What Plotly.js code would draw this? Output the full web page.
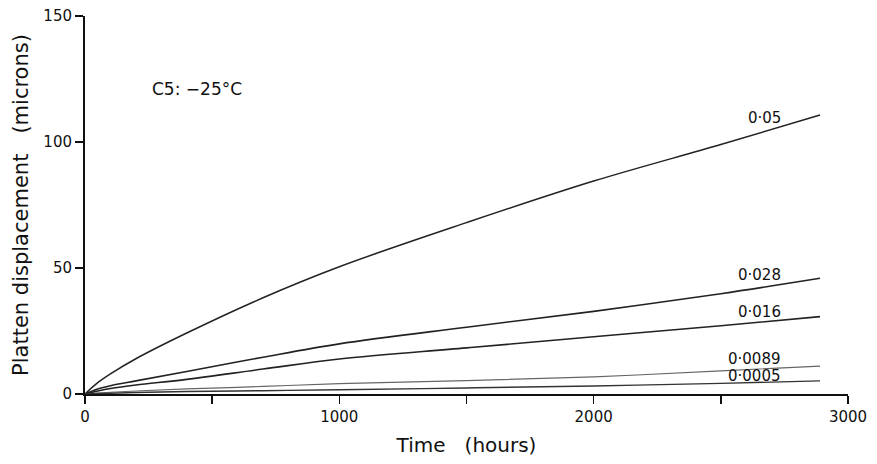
<!DOCTYPE html>
<html>
<head>
<meta charset="utf-8">
<script src="https://cdn.plot.ly/plotly-3.0.1.min.js"></script>
<style>html,body{margin:0;padding:0;background:#fff;}#chart{width:877px;height:464px;}</style>
</head>
<body>
<div id="chart"></div>
<script>
// Time (hours)
const timeHours = [0, 50, 100, 200, 400, 700, 1000, 1500, 2000, 2500, 2890];
// Platten displacement (microns) for each stress label
const seriesLabels = ["0·05", "0·028", "0·016", "0·0089", "0·0005"];
const disp005   = [0, 4.5, 8.0, 14.0, 24.2, 38.2, 50.5, 68.0, 84.5, 99.0, 110.7];
const disp0028  = [0, 2.0, 3.3, 5.2, 8.9, 14.6, 19.9, 26.5, 32.8, 39.8, 45.9];
const disp0016  = [0, 1.2, 2.2, 3.6, 5.8, 9.9, 13.9, 18.3, 22.7, 27.1, 30.7];
const disp00089 = [0, 0.4, 0.7, 1.2, 2.0, 3.0, 4.1, 5.3, 6.8, 9.2, 11.1];
const disp00005 = [0, 0.2, 0.3, 0.6, 1.0, 1.3, 1.7, 2.4, 3.2, 4.2, 5.2];
// label anchor (x in hours, y in microns)
const labelX = [2745, 2745, 2745, 2745, 2745];
const labelY = [109.5, 47.2, 32.5, 13.9, 7.1];
const xTickVals = [0, 1000, 2000, 3000];
const xTickText = ["0", "1000", "2000", "3000"];
const xMinorVals = [500, 1500, 2500];
const yTickVals = [0, 50, 100, 150];
const yTickText = ["0", "50", "100", "150"];

const allSeries = [disp005, disp0028, disp0016, disp00089, disp00005];
const lineColors = ["#222", "#222", "#222", "#666", "#333"];
const lineWidths = [1.5, 1.6, 1.6, 1.2, 1.4];

const FONT = "DejaVu Sans, Arial, sans-serif";

const traces = allSeries.map((ys, i) => ({
  x: timeHours, y: ys, type: "scatter", mode: "lines",
  line: {color: lineColors[i], width: lineWidths[i], shape: "spline", smoothing: 1},
  name: seriesLabels[i], showlegend: false, hoverinfo: "skip"
}));

const annotations = seriesLabels.map((lab, i) => ({
  x: labelX[i], y: labelY[i], xref: "x", yref: "y", text: lab,
  showarrow: false, xanchor: "right", yanchor: "middle",
  font: {family: FONT, size: 15, color: "#111"}
}));
annotations.push({
  x: 0.085, y: 0.807, xref: "paper", yref: "paper", text: "C5: −25°C",
  showarrow: false, xanchor: "left", yanchor: "middle",
  font: {family: FONT, size: 17, color: "#111"}
});

const layout = {
  width: 877, height: 464,
  margin: {l: 85, r: 29, t: 16, b: 70},
  paper_bgcolor: "#fff", plot_bgcolor: "#fff",
  font: {family: FONT, color: "#111"},
  xaxis: {
    range: [0, 3000], showgrid: false, zeroline: false,
    showline: true, linecolor: "#111", linewidth: 2,
    ticks: "outside", ticklen: 8, tickwidth: 1.5, tickcolor: "#111",
    tickvals: xTickVals, ticktext: xTickText,
    minor: {tickvals: xMinorVals, ticks: "outside", ticklen: 8, tickwidth: 1.5, tickcolor: "#111"},
    tickfont: {family: FONT, size: 15, color: "#111"},
    title: {text: "Time   (hours)", font: {family: FONT, size: 20, color: "#111"}, standoff: 13}
  },
  yaxis: {
    range: [0, 150], showgrid: false, zeroline: false,
    showline: true, linecolor: "#111", linewidth: 2,
    ticks: "outside", ticklen: 8, tickwidth: 1.5, tickcolor: "#111",
    tickvals: yTickVals, ticktext: yTickText,
    tickfont: {family: FONT, size: 15, color: "#111"},
    title: {text: "Platten displacement   (microns)", font: {family: FONT, size: 21, color: "#111"}, standoff: 9}
  },
  annotations: annotations
};

Plotly.newPlot("chart", traces, layout, {staticPlot: true, displayModeBar: false});
</script>
</body>
</html>
